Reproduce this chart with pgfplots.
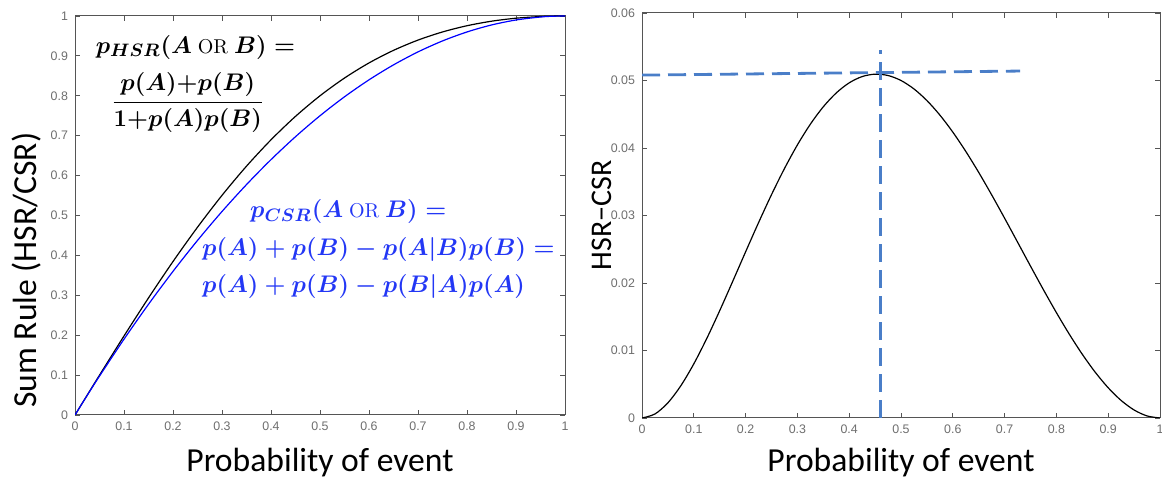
\documentclass[border=0pt]{standalone}
\usepackage{amsmath}
\usepackage{fontspec}
\setmainfont{Carlito}
\newfontfamily\tickfont{Liberation Sans}
\newfontfamily\lmr{Latin Modern Roman}
\usepackage{pgfplots}
\usepackage{pgfplotstable}
\pgfplotsset{compat=1.18}

\definecolor{csrblue}{RGB}{35,55,245}
\definecolor{dashblue}{RGB}{74,126,200}
\definecolor{axgray}{RGB}{85,85,85}

% p, HSR sum rule, CSR sum rule
\pgfplotstableread{
p      hsr       csr
0      0         0
0.025  0.049969  0.049375
0.05   0.099751  0.0975
0.10   0.198020  0.19
0.15   0.293399  0.2775
0.20   0.384615  0.36
0.25   0.470588  0.4375
0.30   0.550459  0.51
0.35   0.623608  0.5775
0.40   0.689655  0.64
0.45   0.748441  0.6975
0.50   0.8       0.75
0.55   0.844530  0.7975
0.60   0.882353  0.84
0.65   0.913884  0.8775
0.70   0.939597  0.91
0.75   0.96      0.9375
0.80   0.975610  0.96
0.85   0.986938  0.9775
0.90   0.994475  0.99
0.95   0.998686  0.9975
0.975  0.999680  0.999375
1      1         1
}\sumrule

% p, HSR - CSR
\pgfplotstableread{
p      diff
0      0
0.025  0.000594
0.05   0.002251
0.075  0.004786
0.10   0.008020
0.125  0.011779
0.15   0.015899
0.175  0.020225
0.20   0.024615
0.225  0.028942
0.25   0.033088
0.275  0.036953
0.30   0.040459
0.325  0.043528
0.35   0.046108
0.375  0.048159
0.40   0.049655
0.425  0.050583
0.45   0.050941
0.475  0.050740
0.50   0.05
0.525  0.048751
0.55   0.047030
0.575  0.044881
0.60   0.042353
0.625  0.039501
0.65   0.036384
0.675  0.033061
0.70   0.029597
0.725  0.026055
0.75   0.0225
0.775  0.018997
0.80   0.015610
0.825  0.012402
0.85   0.009438
0.875  0.006775
0.90   0.004475
0.925  0.002594
0.95   0.001186
0.975  0.000305
1      0
}\difftab

\pgfplotsset{
  matstyle/.style={
    scale only axis,
    axis line style={axgray, line width=0.5pt},
    tick style={axgray, line width=0.4pt},
    major tick length=2.5pt,
    tick align=inside,
    scaled ticks=false,
    xmin=0, xmax=1, ymin=0,
    xtick={0,0.1,0.2,0.3,0.4,0.5,0.6,0.7,0.8,0.9,1},
    xticklabels={0,0.1,0.2,0.3,0.4,0.5,0.6,0.7,0.8,0.9,1},
    tick label style={font=\tickfont\fontsize{6.2}{7}\selectfont, text=axgray!85},
    xlabel={Probability of event},
    xlabel style={font=\fontsize{16.8}{18}\selectfont, inner sep=0pt,
      at={(axis description cs:0.5,0)}, anchor=base},
    ylabel style={inner sep=0pt},
  },
}
\tikzset{formula/.style={font=\boldmath\fontsize{13}{15}\selectfont}}

\begin{document}
\begin{tikzpicture}
\path[use as bounding box] (0,0) rectangle (581pt,240.5pt);

\begin{axis}[matstyle,
  at={(37.5pt,33pt)}, anchor=south west,
  width=245pt, height=199.5pt,
  ymax=1,
  ytick={0,0.1,0.2,0.3,0.4,0.5,0.6,0.7,0.8,0.9,1},
  yticklabels={0,0.1,0.2,0.3,0.4,0.5,0.6,0.7,0.8,0.9,1},
  xlabel style={yshift=-28.5pt},
  ylabel={Sum Rule (HSR/CSR)},
  ylabel style={font=\fontsize{16.8}{18}\selectfont, anchor=base west,
    at={(axis description cs:-0.0795,0.0175)}},
]
\addplot[black, line width=0.6pt, smooth] table[x=p, y=hsr] {\sumrule};
\addplot[blue, line width=0.6pt, smooth] table[x=p, y=csr] {\sumrule};
\node[anchor=west, formula] at (axis cs:0.028,0.922)
  {$p_{HSR}(A\ \text{\lmr\fontsize{10}{12}\selectfont OR}\ B) =$};
\node[formula] at (axis cs:0.23,0.784)
  {$\dfrac{p(A){+}p(B)}{1{+}p(A)p(B)}$};
\node[anchor=west, text=csrblue, formula] at (axis cs:0.343,0.509)
  {$p_{CSR}(A\ \text{\lmr\fontsize{10}{12}\selectfont OR}\ B) =$};
\node[anchor=west, text=csrblue, formula] at (axis cs:0.245,0.414)
  {$p(A)+p(B)-p(A|B)p(B) =$};
\node[anchor=west, text=csrblue, formula] at (axis cs:0.245,0.321)
  {$p(A)+p(B)-p(B|A)p(A)$};
\end{axis}

\begin{axis}[matstyle,
  at={(321pt,31.5pt)}, anchor=south west,
  width=259pt, height=202.5pt,
  ymax=0.06,
  ytick={0,0.01,0.02,0.03,0.04,0.05,0.06},
  yticklabels={0,0.01,0.02,0.03,0.04,0.05,0.06},
  xlabel style={yshift=-27pt},
  ylabel={HSR\textminus CSR},
  ylabel style={font=\fontsize{15}{16}\selectfont, anchor=base,
    at={(axis description cs:-0.058,0.5)}},
]
\addplot[black, line width=0.6pt, smooth] table[x=p, y=diff] {\difftab};
\addplot[dashblue, line width=1.4pt, dash pattern=on 9pt off 4pt] coordinates {(0.46,0) (0.46,0.0545)};
\addplot[dashblue, line width=1.4pt, dash pattern=on 9pt off 4pt] coordinates {(0,0.0508) (0.73,0.0514)};
\end{axis}
\end{tikzpicture}
\end{document}
